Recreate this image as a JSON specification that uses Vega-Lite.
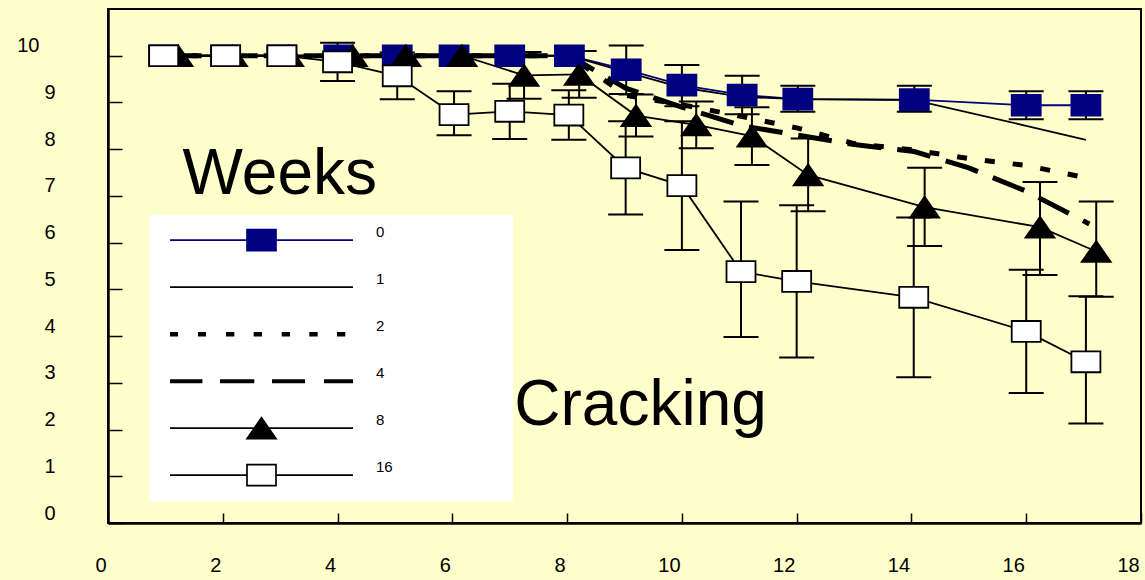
{
  "$schema": "https://vega.github.io/schema/vega-lite/v6.json",
  "width": 1033,
  "height": 514,
  "autosize": {"type": "none"},
  "padding": {"left": 108, "top": 9, "right": 4, "bottom": 57},
  "background": "#FFFFCC",
  "config": {
    "view": {"stroke": "black", "strokeWidth": 2},
    "axis": {"domainColor": "black", "domainWidth": 2.5, "tickColor": "black", "tickWidth": 1.5, "grid": false, "labelFont": "Liberation Sans", "labelFontSize": 20, "labelColor": "black", "labelFlush": false, "labelOverlap": false, "labelBound": false},
    "axisX": {"tickSize": -10, "labelPadding": 42},
    "axisY": {"tickSize": -14, "labelOffset": -10}
  },
  "datasets": {
    "main": [
      {"series": "0", "x": 0.97, "y": 10},
      {"series": "0", "x": 2.05, "y": 10},
      {"series": "0", "x": 3.03, "y": 10},
      {"series": "0", "x": 4.02, "y": 10},
      {"series": "0", "x": 5.04, "y": 10},
      {"series": "0", "x": 6.03, "y": 10},
      {"series": "0", "x": 7.0, "y": 10},
      {"series": "0", "x": 8.04, "y": 10},
      {"series": "0", "x": 9.03, "y": 9.7, "lo": 9.18, "hi": 10.22},
      {"series": "0", "x": 10.0, "y": 9.37, "lo": 8.92, "hi": 9.8},
      {"series": "0", "x": 11.05, "y": 9.16, "lo": 8.75, "hi": 9.57},
      {"series": "0", "x": 12.02, "y": 9.07, "lo": 8.8, "hi": 9.36},
      {"series": "0", "x": 14.05, "y": 9.06, "lo": 8.8, "hi": 9.36},
      {"series": "0", "x": 16.0, "y": 8.94, "lo": 8.64, "hi": 9.24},
      {"series": "0", "x": 17.04, "y": 8.94, "lo": 8.64, "hi": 9.24},
      {"series": "1", "x": 0.97, "y": 10},
      {"series": "1", "x": 2.05, "y": 10},
      {"series": "1", "x": 3.03, "y": 10},
      {"series": "1", "x": 4.02, "y": 10},
      {"series": "1", "x": 5.04, "y": 10},
      {"series": "1", "x": 6.03, "y": 10},
      {"series": "1", "x": 7.0, "y": 10},
      {"series": "1", "x": 8.04, "y": 10},
      {"series": "1", "x": 9.03, "y": 9.65},
      {"series": "1", "x": 10.0, "y": 9.32},
      {"series": "1", "x": 11.05, "y": 9.12},
      {"series": "1", "x": 12.02, "y": 9.07},
      {"series": "1", "x": 14.05, "y": 9.05},
      {"series": "1", "x": 16.0, "y": 8.5},
      {"series": "1", "x": 17.04, "y": 8.2},
      {"series": "2", "x": 0.97, "y": 10},
      {"series": "2", "x": 2.05, "y": 10},
      {"series": "2", "x": 3.03, "y": 10},
      {"series": "2", "x": 4.02, "y": 10},
      {"series": "2", "x": 5.04, "y": 10},
      {"series": "2", "x": 6.03, "y": 10},
      {"series": "2", "x": 7.0, "y": 10},
      {"series": "2", "x": 8.04, "y": 10},
      {"series": "2", "x": 9.03, "y": 9.15},
      {"series": "2", "x": 10.0, "y": 8.95},
      {"series": "2", "x": 11.05, "y": 8.7},
      {"series": "2", "x": 12.02, "y": 8.45},
      {"series": "2", "x": 13.0, "y": 8.12},
      {"series": "2", "x": 14.05, "y": 7.98},
      {"series": "2", "x": 15.0, "y": 7.8},
      {"series": "2", "x": 16.0, "y": 7.65},
      {"series": "2", "x": 17.04, "y": 7.39},
      {"series": "4", "x": 0.97, "y": 10},
      {"series": "4", "x": 2.05, "y": 10},
      {"series": "4", "x": 3.03, "y": 10},
      {"series": "4", "x": 4.02, "y": 10},
      {"series": "4", "x": 5.04, "y": 10},
      {"series": "4", "x": 6.03, "y": 10},
      {"series": "4", "x": 7.0, "y": 10},
      {"series": "4", "x": 8.04, "y": 10},
      {"series": "4", "x": 9.03, "y": 9.3},
      {"series": "4", "x": 10.0, "y": 8.9},
      {"series": "4", "x": 11.05, "y": 8.5},
      {"series": "4", "x": 12.02, "y": 8.3},
      {"series": "4", "x": 13.0, "y": 8.1},
      {"series": "4", "x": 14.05, "y": 7.95},
      {"series": "4", "x": 15.0, "y": 7.6},
      {"series": "4", "x": 16.0, "y": 7.1},
      {"series": "4", "x": 17.1, "y": 6.4},
      {"series": "8", "x": 1.22, "y": 10},
      {"series": "8", "x": 2.17, "y": 10},
      {"series": "8", "x": 3.15, "y": 10},
      {"series": "8", "x": 4.26, "y": 10},
      {"series": "8", "x": 5.19, "y": 10},
      {"series": "8", "x": 6.17, "y": 10},
      {"series": "8", "x": 7.25, "y": 9.58, "lo": 9.08, "hi": 10.08},
      {"series": "8", "x": 8.21, "y": 9.6, "lo": 9.1, "hi": 10.1},
      {"series": "8", "x": 9.2, "y": 8.72, "lo": 8.27, "hi": 9.17},
      {"series": "8", "x": 10.25, "y": 8.52, "lo": 8.02, "hi": 9.02},
      {"series": "8", "x": 11.22, "y": 8.28, "lo": 7.66, "hi": 8.9},
      {"series": "8", "x": 12.2, "y": 7.45, "lo": 6.67, "hi": 8.23},
      {"series": "8", "x": 14.23, "y": 6.76, "lo": 5.93, "hi": 7.6},
      {"series": "8", "x": 16.24, "y": 6.33, "lo": 5.31, "hi": 7.3},
      {"series": "8", "x": 17.22, "y": 5.81, "lo": 4.84, "hi": 6.88},
      {"series": "16", "x": 0.97, "y": 10},
      {"series": "16", "x": 2.05, "y": 10},
      {"series": "16", "x": 3.03, "y": 10},
      {"series": "16", "x": 4.0, "y": 9.87, "lo": 9.46, "hi": 10.28},
      {"series": "16", "x": 5.04, "y": 9.57, "lo": 9.07, "hi": 10.07},
      {"series": "16", "x": 6.03, "y": 8.74, "lo": 8.3, "hi": 9.24},
      {"series": "16", "x": 7.0, "y": 8.81, "lo": 8.22, "hi": 9.4},
      {"series": "16", "x": 8.03, "y": 8.73, "lo": 8.2, "hi": 9.26},
      {"series": "16", "x": 9.02, "y": 7.6, "lo": 6.6, "hi": 8.6},
      {"series": "16", "x": 10.0, "y": 7.22, "lo": 5.84, "hi": 8.6},
      {"series": "16", "x": 11.03, "y": 5.38, "lo": 3.98, "hi": 6.88},
      {"series": "16", "x": 12.0, "y": 5.17, "lo": 3.54, "hi": 6.8},
      {"series": "16", "x": 14.04, "y": 4.83, "lo": 3.12, "hi": 6.54},
      {"series": "16", "x": 16.0, "y": 4.1, "lo": 2.78, "hi": 5.42},
      {"series": "16", "x": 17.04, "y": 3.45, "lo": 2.13, "hi": 4.85}
    ],
    "notes": [
      {"text": "Weeks", "x": 1.3, "y": 7.04},
      {"text": "Cracking", "x": 7.08, "y": 2.1}
    ],
    "leg": [
      {"series": "0"}, {"series": "1"}, {"series": "2"}, {"series": "4"}, {"series": "8"}, {"series": "16"}
    ]
  },
  "encoding": {
    "x": {"field": "x", "type": "quantitative", "scale": {"domain": [0, 18], "nice": false, "zero": false},
      "axis": {"title": null, "values": [0, 2, 4, 6, 8, 10, 12, 14, 16, 18], "labelOffset": {"condition": {"test": "datum.value >= 10", "value": -13}, "value": -7.5}}}
  },
  "layer": [
    {
      "data": {"name": "main"},
      "transform": [{"filter": {"field": "series", "oneOf": ["0", "1", "8", "16"]}}],
      "mark": {"type": "line", "strokeWidth": 1.8},
      "encoding": {
        "y": {"field": "y", "type": "quantitative", "scale": {"domain": [0, 11], "nice": false, "zero": false},
          "axis": {"title": null, "values": [0, 1, 2, 3, 4, 5, 6, 7, 8, 9, 10], "labelPadding": {"condition": {"test": "datum.value == 10", "value": 83}, "value": 67}}},
        "stroke": {"field": "series", "type": "nominal", "scale": {"domain": ["0", "1", "8", "16"], "range": ["#000080", "black", "black", "black"]}, "legend": null}
      }
    },
    {
      "data": {"name": "main"},
      "transform": [{"filter": {"field": "series", "oneOf": ["2", "4"]}}],
      "mark": {"type": "line", "strokeWidth": 5, "color": "black"},
      "encoding": {
        "y": {"field": "y", "type": "quantitative", "scale": {"domain": [0, 11], "nice": false, "zero": false},
          "axis": {"title": null, "values": [0, 1, 2, 3, 4, 5, 6, 7, 8, 9, 10], "labelPadding": {"condition": {"test": "datum.value == 10", "value": 83}, "value": 67}}},
        "strokeDash": {"field": "series", "type": "nominal", "scale": {"domain": ["2", "4"], "range": [[10, 18], [34, 16]]}, "legend": null},
        "detail": {"field": "series"}
      }
    },
    {
      "data": {"name": "main"},
      "transform": [{"filter": {"field": "lo", "valid": true}}],
      "mark": {"type": "rule", "color": "black", "strokeWidth": 2},
      "encoding": {
        "y": {"field": "lo", "type": "quantitative", "scale": {"domain": [0, 11], "nice": false, "zero": false},
          "axis": {"title": null, "values": [0, 1, 2, 3, 4, 5, 6, 7, 8, 9, 10], "labelPadding": {"condition": {"test": "datum.value == 10", "value": 83}, "value": 67}}},
        "y2": {"field": "hi"}
      }
    },
    {
      "data": {"name": "main"},
      "transform": [{"filter": {"field": "lo", "valid": true}}],
      "mark": {"type": "tick", "orient": "horizontal", "size": 35, "thickness": 2, "color": "black", "opacity": 1},
      "encoding": {
        "y": {"field": "lo", "type": "quantitative", "scale": {"domain": [0, 11], "nice": false, "zero": false},
          "axis": {"title": null, "values": [0, 1, 2, 3, 4, 5, 6, 7, 8, 9, 10], "labelPadding": {"condition": {"test": "datum.value == 10", "value": 83}, "value": 67}}}
      }
    },
    {
      "data": {"name": "main"},
      "transform": [{"filter": {"field": "hi", "valid": true}}],
      "mark": {"type": "tick", "orient": "horizontal", "size": 35, "thickness": 2, "color": "black", "opacity": 1},
      "encoding": {
        "y": {"field": "hi", "type": "quantitative", "scale": {"domain": [0, 11], "nice": false, "zero": false},
          "axis": {"title": null, "values": [0, 1, 2, 3, 4, 5, 6, 7, 8, 9, 10], "labelPadding": {"condition": {"test": "datum.value == 10", "value": 83}, "value": 67}}}
      }
    },
    {
      "data": {"name": "main"},
      "transform": [{"filter": {"field": "series", "oneOf": ["0", "8", "16"]}}],
      "mark": {"type": "point", "filled": true, "size": 841, "strokeWidth": 1.8, "opacity": 1},
      "encoding": {
        "y": {"field": "y", "type": "quantitative", "scale": {"domain": [0, 11], "nice": false, "zero": false},
          "axis": {"title": null, "values": [0, 1, 2, 3, 4, 5, 6, 7, 8, 9, 10], "labelPadding": {"condition": {"test": "datum.value == 10", "value": 83}, "value": 67}}},
        "shape": {"field": "series", "type": "nominal", "scale": {"domain": ["0", "8", "16"], "range": ["M-1,-0.72H1V0.72H-1Z", "M0,-0.72L1,0.72H-1Z", "M-1,-0.72H1V0.72H-1Z"]}, "legend": null},
        "fill": {"field": "series", "type": "nominal", "scale": {"domain": ["0", "8", "16"], "range": ["#000080", "black", "white"]}, "legend": null},
        "stroke": {"field": "series", "type": "nominal", "scale": {"domain": ["0", "8", "16"], "range": ["#000080", "black", "black"]}, "legend": null}
      }
    },
    {
      "data": {"name": "notes"},
      "mark": {"type": "text", "align": "left", "baseline": "alphabetic", "font": "Liberation Sans", "fontSize": 64, "color": "black"},
      "encoding": {
        "y": {"field": "y", "type": "quantitative", "scale": {"domain": [0, 11], "nice": false, "zero": false},
          "axis": {"title": null, "values": [0, 1, 2, 3, 4, 5, 6, 7, 8, 9, 10], "labelPadding": {"condition": {"test": "datum.value == 10", "value": 83}, "value": 67}}},
        "text": {"field": "text"}
      }
    },
    {
      "data": {"name": "leg"},
      "mark": {"type": "point", "filled": true, "opacity": 0},
      "encoding": {
        "x": {"value": 0},
        "y": {"value": 0},
        "shape": {"field": "series", "type": "nominal",
          "scale": {"domain": ["0", "1", "2", "4", "8", "16"], "range": [
            "M-1,0H-0.1585M0.1585,0H1M-0.1585,-0.1148H0.1585V0.1148H-0.1585Z",
            "M-1,0H1",
            "M-1,-0.024H-0.9126V0.024H-1ZM-0.694,-0.024H-0.6066V0.024H-0.694ZM-0.388,-0.024H-0.2973V0.024H-0.388ZM-0.0852,-0.024H0.0055V0.024H-0.0852ZM0.2208,-0.024H0.3115V0.024H0.2208ZM0.5224,-0.024H0.6142V0.024H0.5224ZM0.8251,-0.024H0.9158V0.024H0.8251Z",
            "M-1,-0.022H-0.646V0.022H-1ZM-0.4536,-0.022H-0.0787V0.022H-0.4536ZM0.1148,-0.022H0.4754V0.022H0.1148ZM0.6831,-0.022H1V0.022H0.6831Z",
            "M-1,0H1M0,-0.1148L0.1585,0.1148H-0.1585Z",
            "M-1,0H-0.1585M0.1585,0H1M-0.1585,-0.1148H0.1585V0.1148H-0.1585Z"
          ]},
          "legend": {"title": "\u00a0", "titleOrient": "right", "titlePadding": 118, "titleFontSize": 1, "orient": "none", "legendX": 41, "legendY": 206, "fillColor": "white", "padding": 2, "symbolSize": 33489, "symbolStrokeWidth": 1.7, "symbolOffset": 18, "symbolOpacity": 1, "labelOffset": 22, "clipHeight": 46.4, "rowPadding": 0, "labelFont": "Liberation Sans", "labelFontSize": 15, "labelColor": "black", "labelBaseline": "bottom", "labelLimit": 400}
        },
        "fill": {"field": "series", "type": "nominal", "scale": {"domain": ["0", "1", "2", "4", "8", "16"], "range": ["#000080", "black", "black", "black", "black", "white"]}},
        "stroke": {"field": "series", "type": "nominal", "scale": {"domain": ["0", "1", "2", "4", "8", "16"], "range": ["#000080", "black", "transparent", "transparent", "black", "black"]}}
      }
    }
  ],
  "resolve": {"scale": {"fill": "independent", "stroke": "independent", "shape": "independent", "strokeDash": "independent"}}
}
